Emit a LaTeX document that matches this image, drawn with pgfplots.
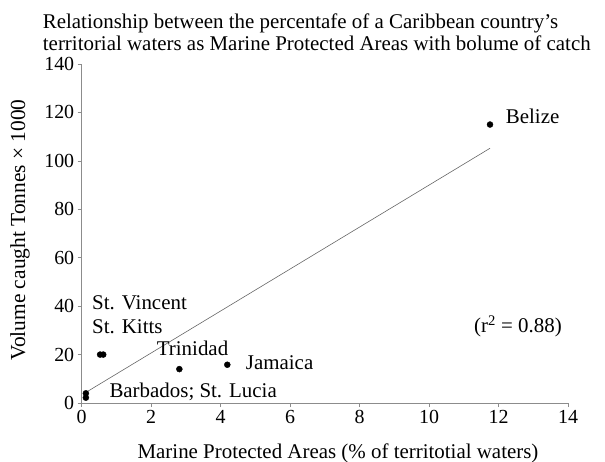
\documentclass[border=0pt]{standalone}
\usepackage{fontspec}
\setmainfont{Liberation Serif}
\usepackage{pgfplots}
\pgfplotsset{compat=1.18}
\begin{document}
\begin{tikzpicture}
\path[use as bounding box] (-81.7bp,-59bp) rectangle (523.3bp,403bp);
\begin{axis}[
  at={(0,0)}, anchor=south west,
  scale only axis, width=486.5bp, height=339bp,
  xmin=0, xmax=14, ymin=0, ymax=140,
  xtick={0,2,...,14}, ytick={0,20,...,140},
  axis x line*=bottom, axis y line*=left,
  axis line style={black!45, line width=0.6pt},
  tick align=outside, major tick length=4bp,
  tick style={black!45, line width=0.6pt},
  /pgf/number format/assume math mode=true,
  ticklabel style={font=\fontsize{20}{23}\selectfont},
  clip=false,
]
\addplot[black!60, line width=0.6pt] coordinates {(0.1,4.2) (11.75,105.2)};
\addplot[only marks, mark=*, mark size=3bp, black] coordinates {
  (11.75,115)
  (0.53,20) (0.62,20)
  (2.81,14)
  (4.19,15.8)
  (0.12,4) (0.12,2.2)
};
\end{axis}
\begin{scope}[every node/.style={inner sep=0pt, font=\fontsize{21}{24}\selectfont}]
\node[anchor=base west] at (10.3bp,93.7bp) {St. Vincent};
\node[anchor=base west] at (10.3bp,69.7bp) {St. Kitts};
\node[anchor=base west] at (75bp,47bp) {Trinidad};
\node[anchor=base west] at (164bp,33.7bp) {Jamaica};
\node[anchor=base west] at (27.6bp,5.7bp) {Barbados; St. Lucia};
\node[anchor=base west] at (424bp,279.7bp) {Belize};
\node[anchor=base west] at (392.3bp,70bp) {(r\textsuperscript{2} = 0.88)};
\end{scope}
\begin{scope}[every node/.style={inner sep=0pt, font=\fontsize{21}{24}\selectfont}]
\node[anchor=base west] at (-39bp,374bp) {Relationship between the percentafe of a Caribbean country’s};
\node[anchor=base west] at (-39bp,352bp) {territorial waters as Marine Protected Areas with bolume of catch};
\node[anchor=base] at (256.3bp,-55bp) {Marine Protected Areas (\% of territotial waters)};
\node[anchor=center, rotate=90, font=\fontsize{21.5}{24}\selectfont] at (-61.7bp,173bp) {Volume caught Tonnes × 1000};
\end{scope}
\end{tikzpicture}
\end{document}
